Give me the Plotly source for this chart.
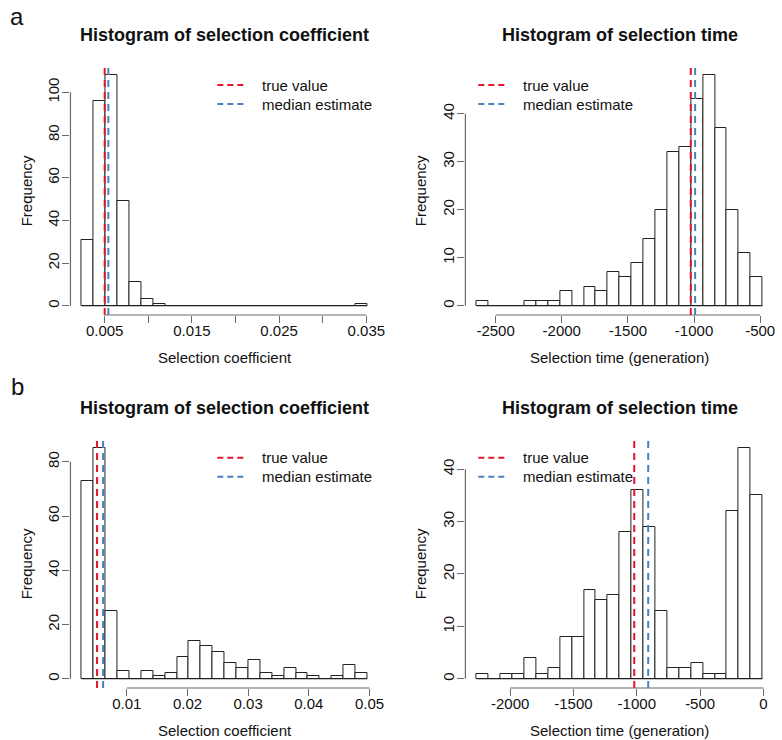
import plotly.graph_objects as go

# ---------------- data ----------------
# panel a - selection coefficient
a_coef_counts = [31, 96, 108, 49, 11, 3, 1, 0, 0, 0, 0, 0, 0, 0, 0, 0, 0, 0, 0, 0, 0, 0, 0, 1]
a_coef_start = 0.002383
a_coef_binwidth = 0.001364
a_coef_true = 0.005
a_coef_median = 0.00542
a_coef_ticks = [0.005, 0.010, 0.015, 0.020, 0.025, 0.030, 0.035]
a_coef_ticktext = ["0.005", "", "0.015", "", "0.025", "", "0.035"]
a_coef_yticks = [0, 20, 40, 60, 80, 100]

# panel a - selection time
a_time_counts = [1, 0, 0, 0, 1, 1, 1, 3, 0, 4, 3, 7, 6, 9, 14, 20, 32, 33, 43, 48, 37, 20, 11, 6]
a_time_start = -2642
a_time_binwidth = 90
a_time_true = -1025
a_time_median = -992
a_time_ticks = [-2500, -2000, -1500, -1000, -500]
a_time_ticktext = ["-2500", "-2000", "-1500", "-1000", "-500"]
a_time_yticks = [0, 10, 20, 30, 40]

# panel b - selection coefficient
b_coef_counts = [73, 85, 25, 3, 0, 3, 1, 2, 8, 14, 12, 10, 6, 4, 7, 2, 1, 4, 2, 1, 0, 1, 5, 2]
b_coef_start = 0.0026
b_coef_binwidth = 0.00196
b_coef_true = 0.0051
b_coef_median = 0.0061
b_coef_ticks = [0.01, 0.02, 0.03, 0.04, 0.05]
b_coef_ticktext = ["0.01", "0.02", "0.03", "0.04", "0.05"]
b_coef_yticks = [0, 20, 40, 60, 80]

# panel b - selection time
b_time_counts = [1, 0, 1, 1, 4, 1, 2, 8, 8, 17, 15, 16, 28, 36, 29, 13, 2, 2, 3, 1, 1, 32, 44, 35]
b_time_start = -2263
b_time_binwidth = 94
b_time_true = -1020
b_time_median = -910
b_time_ticks = [-2000, -1500, -1000, -500, 0]
b_time_ticktext = ["-2000", "-1500", "-1000", "-500", "0"]
b_time_yticks = [0, 10, 20, 30, 40]

title_coef = "Histogram of selection coefficient"
title_time = "Histogram of selection time"
xlabel_coef = "Selection coefficient"
xlabel_time = "Selection time (generation)"
ylabel = "Frequency"
legend_labels = ["true value", "median estimate"]
panel_letters = ["a", "b"]

# ---------------- styling ----------------
W, H = 782, 740
FONT = "Liberation Sans, Arial, Helvetica, sans-serif"
RED = "#E3142C"
BLUE = "#4A80BE"
AXIS_COL = "#6a6a6a"
BAR_LINE = "#222222"

fig = go.Figure()

def px_x(p):
    return p / W

def px_y(p):
    return 1 - p / H

col_x = {"left": (71, 381.7), "right": (469, 780)}
row_y = {"top": (66, 315), "bottom": (439, 688)}

panels = [
    dict(counts=a_coef_counts, start=a_coef_start, bw=a_coef_binwidth, true=a_coef_true,
         med=a_coef_median, ticks=a_coef_ticks, ticktext=a_coef_ticktext, yticks=a_coef_yticks,
         col="left", row="top", title=title_coef, xlabel=xlabel_coef),
    dict(counts=a_time_counts, start=a_time_start, bw=a_time_binwidth, true=a_time_true,
         med=a_time_median, ticks=a_time_ticks, ticktext=a_time_ticktext, yticks=a_time_yticks,
         col="right", row="top", title=title_time, xlabel=xlabel_time),
    dict(counts=b_coef_counts, start=b_coef_start, bw=b_coef_binwidth, true=b_coef_true,
         med=b_coef_median, ticks=b_coef_ticks, ticktext=b_coef_ticktext, yticks=b_coef_yticks,
         col="left", row="bottom", title=title_coef, xlabel=xlabel_coef),
    dict(counts=b_time_counts, start=b_time_start, bw=b_time_binwidth, true=b_time_true,
         med=b_time_median, ticks=b_time_ticks, ticktext=b_time_ticktext, yticks=b_time_yticks,
         col="right", row="bottom", title=title_time, xlabel=xlabel_time),
]

shapes = []
annotations = []
layout_axes = {}

for i, p in enumerate(panels, start=1):
    xa = "x" if i == 1 else f"x{i}"
    ya = "y" if i == 1 else f"y{i}"
    n = len(p["counts"])
    edges = [p["start"] + k * p["bw"] for k in range(n + 1)]
    centers = [(edges[k] + edges[k + 1]) / 2 for k in range(n)]
    span = edges[-1] - edges[0]
    xr = [edges[0] - 0.04 * span, edges[-1] + 0.04 * span]
    ymax = max(p["counts"])
    yr = [-0.04 * ymax, 1.04 * ymax]

    # bars
    fig.add_trace(go.Bar(x=centers, y=p["counts"], width=p["bw"], xaxis=xa, yaxis=ya,
                         marker=dict(color="white", line=dict(color=BAR_LINE, width=1)),
                         showlegend=False, hoverinfo="skip"))
    # zero-height bars drawn as baseline
    fig.add_trace(go.Scatter(x=[edges[0], edges[-1]], y=[0, 0], mode="lines", xaxis=xa, yaxis=ya,
                             line=dict(color=BAR_LINE, width=1), showlegend=False, hoverinfo="skip"))

    x0, x1 = col_x[p["col"]]
    yt, yb = row_y[p["row"]]
    axkey = "xaxis" if i == 1 else f"xaxis{i}"
    aykey = "yaxis" if i == 1 else f"yaxis{i}"
    layout_axes[axkey] = dict(domain=[px_x(x0), px_x(x1)], range=xr, anchor=ya,
                              showgrid=False, zeroline=False, showline=False,
                              tickmode="array", tickvals=p["ticks"], ticktext=p["ticktext"],
                              ticks="outside", ticklen=7, tickwidth=1.2, tickcolor=AXIS_COL,
                              ticklabelstandoff=-5,
                              tickfont=dict(family=FONT, size=15, color="#111"),
                              fixedrange=True)
    layout_axes[aykey] = dict(domain=[px_y(yb), px_y(yt)], range=yr, anchor=xa,
                              showgrid=False, zeroline=False, showline=False,
                              tickmode="array", tickvals=p["yticks"],
                              ticks="outside", ticklen=7, tickwidth=1.2, tickcolor=AXIS_COL,
                              tickangle=-90, ticklabelstandoff=-3,
                              tickfont=dict(family=FONT, size=15, color="#111"),
                              fixedrange=True)

    xref = xa
    yref = ya
    # R-style axis lines spanning first..last tick
    shapes.append(dict(type="line", xref=xref, yref=f"{yref} domain",
                       x0=p["ticks"][0], x1=p["ticks"][-1], y0=0, y1=0,
                       line=dict(color=AXIS_COL, width=1.2)))
    shapes.append(dict(type="line", xref=f"{xref} domain", yref=yref,
                       x0=0, x1=0, y0=p["yticks"][0], y1=p["yticks"][-1],
                       line=dict(color=AXIS_COL, width=1.2)))
    # vertical reference lines
    shapes.append(dict(type="line", xref=xref, yref=f"{yref} domain",
                       x0=p["true"], x1=p["true"], y0=0, y1=1,
                       line=dict(color=RED, width=2, dash="7px,5px")))
    shapes.append(dict(type="line", xref=xref, yref=f"{yref} domain",
                       x0=p["med"], x1=p["med"], y0=0, y1=1,
                       line=dict(color=BLUE, width=2, dash="7px,5px")))

    # title
    top_off = 0 if p["row"] == "top" else 373
    annotations.append(dict(text=f"<b>{p['title']}</b>", xref="paper", yref="paper",
                            x=px_x((x0 + x1) / 2), y=px_y(35 + top_off), showarrow=False,
                            xanchor="center", yanchor="middle",
                            font=dict(family=FONT, size=18, color="#111")))
    # x label
    annotations.append(dict(text=p["xlabel"], xref="paper", yref="paper",
                            x=px_x((x0 + x1) / 2), y=px_y(357 + top_off), showarrow=False,
                            xanchor="center", yanchor="middle",
                            font=dict(family=FONT, size=15, color="#111")))
    # y label
    ylab_x = 27 if p["col"] == "left" else 424
    annotations.append(dict(text=ylabel, xref="paper", yref="paper", textangle=-90,
                            x=px_x(ylab_x), y=px_y((yt + yb) / 2), showarrow=False,
                            xanchor="center", yanchor="middle",
                            font=dict(family=FONT, size=15, color="#111")))
    # legend
    if p["col"] == "left":
        lx0, lx1, tx = 219, 248, 262
    else:
        lx0, lx1, tx = 482, 511.7, 525
    ly = [85, 104] if p["row"] == "top" else [457.7, 476.7]
    for lab, col, yy in zip(legend_labels, [RED, BLUE], ly):
        shapes.append(dict(type="line", xref="paper", yref="paper",
                           x0=px_x(lx0), x1=px_x(lx1), y0=px_y(yy), y1=px_y(yy),
                           line=dict(color=col, width=2, dash="6px,4px")))
        annotations.append(dict(text=lab, xref="paper", yref="paper",
                                x=px_x(tx), y=px_y(yy), showarrow=False,
                                xanchor="left", yanchor="middle",
                                font=dict(family=FONT, size=15, color="#111")))

# panel letters
annotations.append(dict(text=panel_letters[0], xref="paper", yref="paper", x=px_x(17), y=px_y(16),
                        showarrow=False, xanchor="center", yanchor="middle",
                        font=dict(family=FONT, size=24, color="#111")))
annotations.append(dict(text=panel_letters[1], xref="paper", yref="paper", x=px_x(17.5), y=px_y(386),
                        showarrow=False, xanchor="center", yanchor="middle",
                        font=dict(family=FONT, size=24, color="#111")))

fig.update_layout(width=W, height=H, margin=dict(l=0, r=0, t=0, b=0),
                  paper_bgcolor="white", plot_bgcolor="white",
                  showlegend=False, bargap=0, shapes=shapes, annotations=annotations,
                  **layout_axes)

fig.write_html("out.html", config={"displayModeBar": False},
               post_script="document.body.style.margin='0';document.body.style.padding='0';"
                           "document.documentElement.style.overflow='hidden';")
